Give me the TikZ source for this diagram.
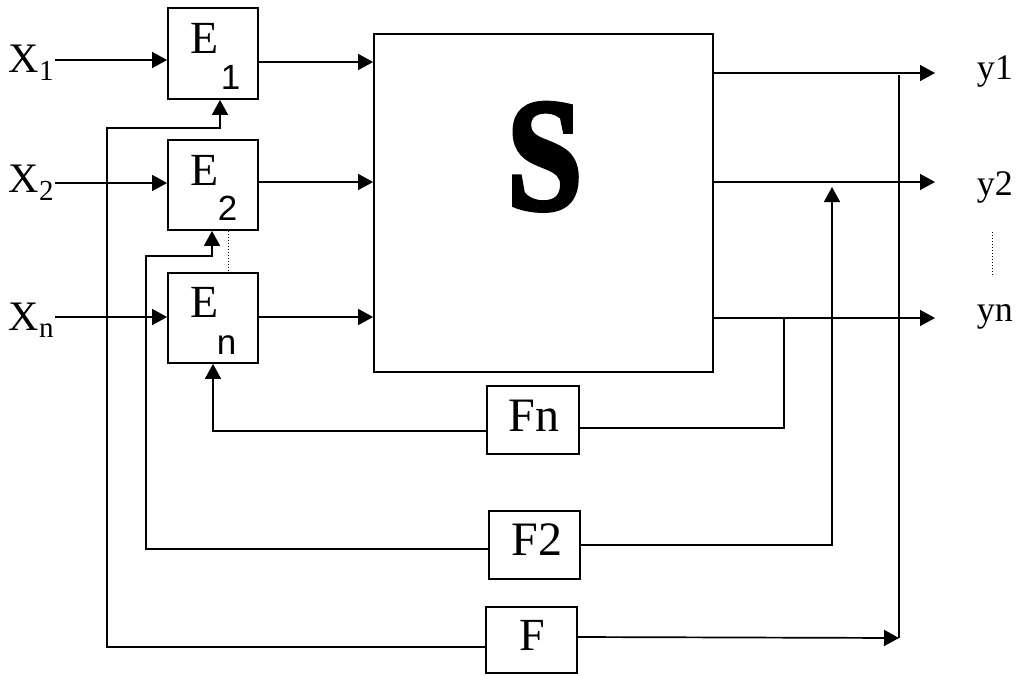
\documentclass[tikz,border=0pt]{standalone}
\usepackage{fontspec}
\setmainfont{Liberation Serif}
\newfontfamily\subsans{Liberation Sans}
\newfontfamily\heavyS[FakeBold=3]{Liberation Serif Bold}
\usetikzlibrary{arrows.meta}
\begin{document}
\begin{tikzpicture}[x=1pt,y=-1pt,
  line width=1.7pt,
  blk/.style={draw, line width=1.8pt, inner sep=0pt},
  arr/.style={-{Triangle[length=15pt,width=16pt]}},
  txt/.style={inner sep=0pt, anchor=base west},
  dotln/.style={line width=1pt, dotted}]
\useasboundingbox (0,0) rectangle (1016,675);
% blocks
\node[blk, minimum width=90pt, minimum height=91pt] (E1) at (213,53.5) {};
\node[blk, minimum width=90pt, minimum height=90pt] (E2) at (213,185) {};
\node[blk, minimum width=90pt, minimum height=90pt] (En) at (213,318) {};
\node[blk, minimum width=339pt, minimum height=338pt] (S) at (543.5,203) {};
\node[blk, minimum width=92pt, minimum height=68pt] (Fn) at (533,420) {};
\node[blk, minimum width=91pt, minimum height=68pt] (F2) at (534.5,545) {};
\node[blk, minimum width=91pt, minimum height=66pt] (F) at (531.5,640) {};
% block texts
\node[txt] (E1a) at (190,53) {\fontsize{46}{46}\selectfont E};
\node[txt] (E1b) at (220,89) {\subsans\fontsize{35}{35}\selectfont 1};
\node[txt] (E2a) at (190,185) {\fontsize{46}{46}\selectfont E};
\node[txt] (E2b) at (217,220) {\subsans\fontsize{35}{35}\selectfont 2};
\node[txt] (Ena) at (190,317) {\fontsize{46}{46}\selectfont E};
\node[txt] (Enb) at (216,354) {\subsans\fontsize{35}{35}\selectfont n};
\node[txt] (Sa) at (506,209) {\scalebox{0.85}[1]{\heavyS\fontsize{160}{160}\selectfont S}};
\node[txt] (Fna) at (508,431) {\fontsize{48}{48}\selectfont Fn};
\node[txt] (F2a) at (511,555) {\fontsize{48}{48}\selectfont F2};
\node[txt] (Fa) at (519,650) {\fontsize{46}{46}\selectfont F};
% inputs
\node[txt] (X1) at (8,72) {\fontsize{42}{42}\selectfont X\raisebox{-8pt}{\fontsize{29}{29}\selectfont 1}};
\node[txt] (X2) at (8,192) {\fontsize{42}{42}\selectfont X\raisebox{-8pt}{\fontsize{29}{29}\selectfont 2}};
\node[txt] (Xn) at (8,330) {\fontsize{42}{42}\selectfont X\raisebox{-7pt}{\fontsize{29}{29}\selectfont n}};
\coordinate (x1s) at (55,60);
\coordinate (x2s) at (55,183);
\coordinate (xns) at (55,317);
\draw[arr] (x1s) -- (x1s -| E1.west);
\draw[arr] (x2s) -- (x2s -| E2.west);
\draw[arr] (xns) -- (xns -| En.west);
% E to S
\draw[arr] (E1.east |- 0,62) -- (S.west |- 0,62);
\draw[arr] (E2.east |- 0,182) -- (S.west |- 0,182);
\draw[arr] (En.east |- 0,317) -- (S.west |- 0,317);
% outputs
\node[txt] (y1) at (976,79) {\fontsize{36}{36}\selectfont y1};
\node[txt] (y2) at (976,195) {\fontsize{36}{36}\selectfont y2};
\node[txt] (yn) at (976,321) {\fontsize{36}{36}\selectfont yn};
\coordinate (o1) at (935,73);
\coordinate (o2) at (935,182);
\coordinate (on) at (935,318);
\draw[arr] (S.east |- o1) -- (o1);
\draw[arr] (S.east |- o2) -- (o2);
\draw[arr] (S.east |- on) -- (on);
% dotted marks
\draw[dotln] (E2.south -| 228,0) -- (En.north -| 228,0);
\coordinate (d1) at (992,232);
\coordinate (d2) at (992,275);
\draw[dotln] (d1) -- (d2);
% feedback Fn
\coordinate (fn1) at (784,318);
\draw (fn1) -- (784,428) -- (Fn.east |- 0,428);
\draw[arr] (Fn.west |- 0,431) -- (213,431) -- (En.south -| 213,0);
% feedback F2
\draw[arr] (F2.east |- 0,545) -- (832,545) -- (832,187);
\draw[arr] (F2.west |- 0,549) -- (146,549) -- (146,256) -- (212,256) -- (E2.south -| 212,0);
% feedback F
\coordinate (vt) at (899,75);
\coordinate (vb) at (899,638);
\draw (vt) -- (vb);
\draw[arr] (F.east |- 0,637) -- (vb);
\draw[arr] (F.west |- 0,647) -- (107,647) -- (107,128) -- (220,128) -- (E1.south -| 220,0);
\end{tikzpicture}
\end{document}
